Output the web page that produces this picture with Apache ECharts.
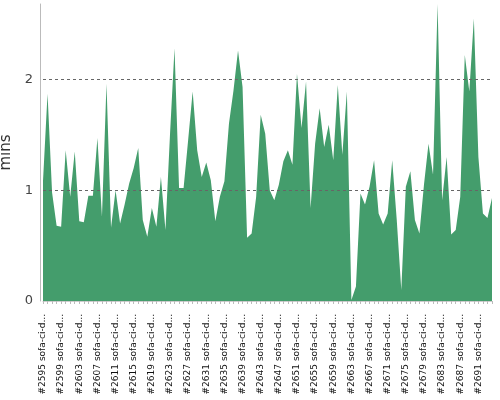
<!DOCTYPE html>
<html>
<head>
<meta charset="utf-8">
<script src="https://cdn.jsdelivr.net/npm/echarts@6/dist/echarts.min.js"></script>
<style>html,body{margin:0;padding:0;background:#fff}#c{width:500px;height:400px}</style>
</head>
<body>
<div id="c"></div>
<script>
const firstBuild = 2595;
const jobName = 'sofa-ci-dev';
const minutes = [
  1.08, 1.87, 0.98, 0.68, 0.67, 1.36, 0.94, 1.35, 0.72, 0.71,
  0.95, 0.95, 1.47, 0.76, 1.96, 0.66, 1.00, 0.70, 0.87, 1.06,
  1.20, 1.38, 0.73, 0.58, 0.84, 0.67, 1.12, 0.64, 1.50, 2.28,
  1.02, 1.02, 1.45, 1.89, 1.36, 1.12, 1.25, 1.09, 0.72, 0.94,
  1.08, 1.60, 1.90, 2.26, 1.93, 0.57, 0.61, 0.94, 1.68, 1.51,
  1.00, 0.91, 1.05, 1.26, 1.36, 1.23, 2.05, 1.56, 1.98, 0.84,
  1.42, 1.74, 1.39, 1.59, 1.27, 1.95, 1.32, 1.89, 0.01, 0.13,
  0.97, 0.87, 1.03, 1.27, 0.79, 0.69, 0.79, 1.27, 0.73, 0.10,
  1.03, 1.17, 0.73, 0.61, 1.05, 1.42, 1.14, 2.68, 0.91, 1.30,
  0.60, 0.64, 0.94, 2.22, 1.89, 2.55, 1.30, 0.79, 0.75, 0.93
];
const categories = minutes.map((_, i) => '#' + (firstBuild + i) + ' ' + jobName);
const gridValues = [1, 2];
const yName = 'mins';

const chart = echarts.init(document.getElementById('c'), null, {renderer: 'canvas'});
chart.setOption({
  animation: false,
  textStyle: {fontFamily: 'DejaVu Sans'},
  grid: {left: 43, right: 8, top: 4, bottom: 99, containLabel: false, outerBoundsMode: 'none'},
  xAxis: {
    type: 'category',
    data: categories,
    boundaryGap: false,
    offset: 4,
    axisLine: {show: true, lineStyle: {color: '#cccccc', width: 1}},
    axisTick: {show: true, interval: 0, length: 3, lineStyle: {color: '#bbbbbb'}},
    axisLabel: {
      interval: 3, rotate: 90, margin: 9, fontSize: 9, color: '#111',
      fontFamily: 'DejaVu Sans',
      formatter: n => n.length > 15 ? n.slice(0, 15) + '...' : n
    },
    splitLine: {show: false}
  },
  yAxis: {
    type: 'value',
    min: 0,
    max: 'dataMax',
    interval: 1,
    offset: 3,
    name: yName,
    nameLocation: 'middle',
    nameGap: 24,
    nameTextStyle: {fontSize: 15, color: '#333', fontFamily: 'DejaVu Sans'},
    axisLine: {show: true, lineStyle: {color: '#bbbbbb', width: 1}},
    axisTick: {show: false},
    axisLabel: {
      margin: 7, fontSize: 13, color: '#444',
      formatter: v => Number.isInteger(v) ? String(v) : ''
    },
    splitLine: {show: false}
  },
  series: [{
    type: 'line',
    data: minutes,
    symbol: 'none',
    lineStyle: {width: 0, color: '#449d6c'},
    itemStyle: {color: '#449d6c'},
    areaStyle: {color: '#449d6c', opacity: 1},
    markLine: {
      silent: true,
      symbol: 'none',
      z: 5,
      label: {show: false},
      lineStyle: {color: '#666', type: [3, 3], width: 1},
      data: gridValues.map(v => ({yAxis: v}))
    }
  }]
});
</script>
</body>
</html>
